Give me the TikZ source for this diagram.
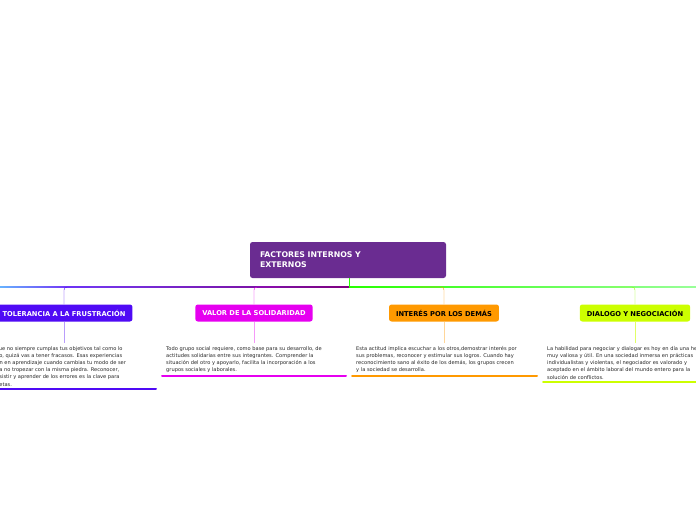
\documentclass[tikz,border=0pt]{standalone}
\usepackage{fontspec}
\setmainfont{DejaVu Sans}
\begin{document}
\begin{tikzpicture}[x=1pt,y=-1pt,
  box/.style={rounded corners=2.5pt,minimum height=17pt,inner xsep=7pt,font=\fontsize{6.7}{7}\selectfont\bfseries},
  txt/.style={anchor=north west,align=left,inner sep=0pt,font=\fontsize{5.1}{7.2}\selectfont,text=black!85},
  ul/.style={line width=2pt,line cap=round}]
\useasboundingbox (0,0) rectangle (696,520);
\clip (0,0) rectangle (696,520);
\definecolor{mainc}{HTML}{6A2C91}
\definecolor{c1}{HTML}{4F0AF5}
\definecolor{c2}{HTML}{E600F0}
\definecolor{c3}{HTML}{FF9900}
\definecolor{c4}{HTML}{CCFF00}
\node[box,fill=mainc,text=white,minimum width=194pt,minimum height=36pt,align=left,text width=176pt,inner xsep=10pt,font=\fontsize{7.8}{10}\selectfont\bfseries] (m) at (348,260) {FACTORES INTERNOS Y\\EXTERNOS};
\coordinate (j) at (349,287);
\draw[green!80!lime,line width=1pt] (m.south -| j) -- (j);
\shade[left color=cyan!50!blue!60,right color=c1!80] (0,286.5) rectangle (64,287.5);
\shade[left color=c1!80,right color=violet] (64,286.5) rectangle (349,287.5);
\shade[left color=green!80!lime,right color=green!40] (349,286.5) rectangle (696,287.5);
% branches
\node[box,fill=c1,text=white] (b1) at (64,313) {TOLERANCIA A LA FRUSTRACIÓN};
\node[box,fill=c2,text=white] (b2) at (254,313) {VALOR DE LA SOLIDARIDAD};
\node[box,fill=c3,text=black] (b3) at (444,313) {INTERÉS POR LOS DEMÁS};
\node[box,fill=c4,text=black] (b4) at (635,313) {DIALOGO Y NEGOCIACIÓN};
\draw[c1,rounded corners=3pt] (b1.north) -- (64,287) -- (90,287);
\draw[c2,rounded corners=3pt] (b2.north) -- (254,287) -- (280,287);
\draw[c3,rounded corners=3pt] (b3.north) -- (444,287) -- (420,287);
\draw[c4!70!green,rounded corners=3pt] (b4.north) -- (635,287) -- (610,287);
\coordinate (t1) at (64,343); \coordinate (t2) at (254,343);
\coordinate (t3) at (444,343); \coordinate (t4) at (635,343);
\draw[c1!40] (b1.south) -- (t1);
\draw[c2!40] (b2.south) -- (t2);
\draw[c3!40] (b3.south) -- (t3);
\draw[c4!60] (b4.south) -- (t4);
\node[txt] (x1) at (-32,346) {Es posible que no siempre cumplas tus objetivos tal como lo\\has planeado, quizá vas a tener fracasos. Esas experiencias\\se convierten en aprendizaje cuando cambias tu modo de ser\\o actuar para no tropezar con la misma piedra. Reconocer,\\aceptar, persistir y aprender de los errores es la clave para\\lograr tus metas.};
\node[txt] (x2) at (166,346) {Todo grupo social requiere, como base para su desarrollo, de\\actitudes solidarias entre sus integrantes. Comprender la\\situación del otro y apoyarlo, facilita la incorporación a los\\grupos sociales y laborales.};
\node[txt] (x3) at (356,346) {Esta actitud implica escuchar a los otros,demostrar interés por\\sus problemas, reconocer y estimular sus logros. Cuando hay\\reconocimiento sano al éxito de los demás, los grupos crecen\\y la sociedad se desarrolla.};
\node[txt] (x4) at (547,346) {La habilidad para negociar y dialogar es hoy en día una herramienta\\muy valiosa y útil. En una sociedad inmersa en prácticas\\individualistas y violentas, el negociador es valorado y\\aceptado en el ámbito laboral del mundo entero para la\\solución de conflictos.};
\draw[ul,c1] (-10,389) -- (156,389);
\draw[ul,c2] (162,376) -- (346,376);
\draw[ul,c3] (352,376) -- (537,376);
\draw[ul,c4] (543,382) -- (700,382);
\end{tikzpicture}
\end{document}
